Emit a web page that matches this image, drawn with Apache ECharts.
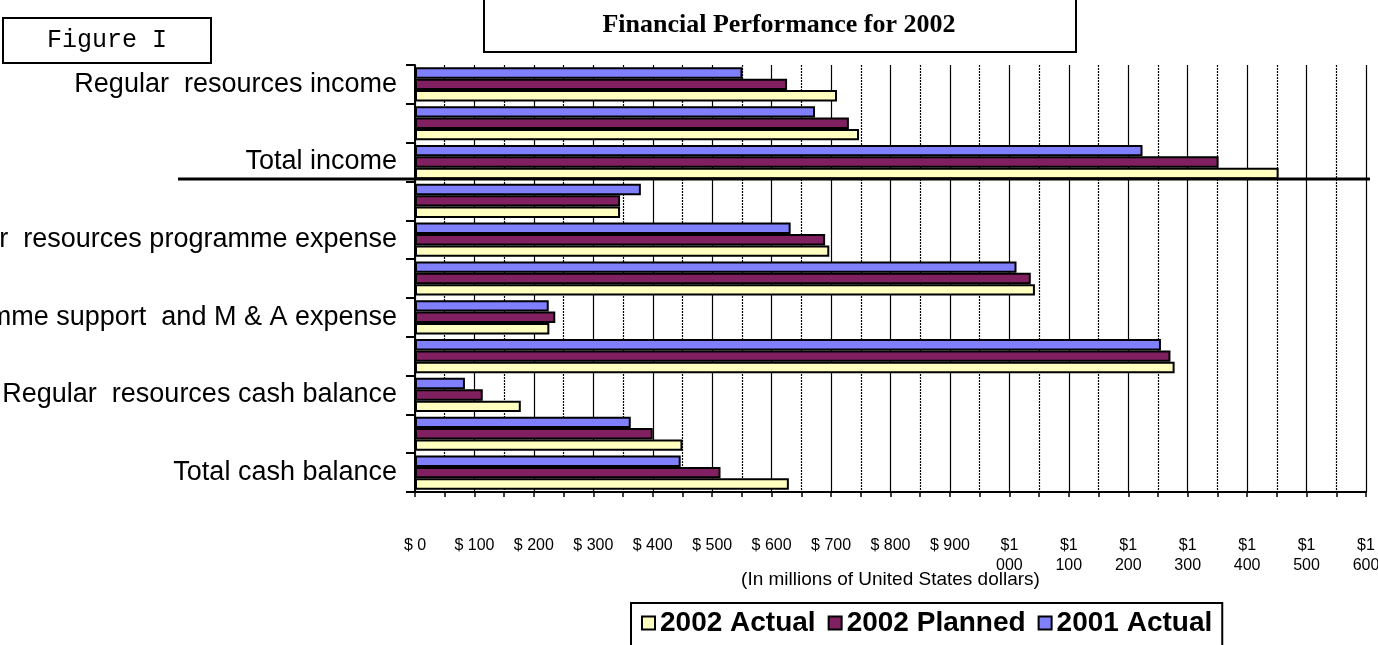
<!DOCTYPE html>
<html>
<head>
<meta charset="utf-8">
<script src="https://cdn.jsdelivr.net/npm/echarts@6/dist/echarts.min.js"></script>
<style>
html,body{margin:0;padding:0;background:#fff;}
#chart{width:1378px;height:645px;}
</style>
</head>
<body>
<div id="chart"></div>
<script>
var categories = [
  'Regular  resources income',
  'Other  resources income',
  'Total income',
  'Regular  resources programme expense',
  'Other  resources programme expense',
  'Total programme expense',
  'Programme support  and M & A expense',
  'Total expense',
  'Regular  resources cash balance',
  'Other  resources cash balance',
  'Total cash balance'
];
var actual2001  = [551, 673, 1224, 380, 632, 1012, 225, 1255, 84, 363, 447];
var planned2002 = [626, 730, 1352, 345, 690, 1036, 236, 1271, 114, 400, 514];
var actual2002  = [710, 747, 1453, 345, 697, 1043, 226, 1278, 178, 450, 629];
var xTickLabels = ['$ 0','$ 100','$ 200','$ 300','$ 400','$ 500','$ 600','$ 700','$ 800','$ 900',
  '$1\n000','$1\n100','$1\n200','$1\n300','$1\n400','$1\n500','$1\n600'];

var chart = echarts.init(document.getElementById('chart'));
var border = {borderColor:'#000', borderWidth:2};
chart.setOption({
  animation:false,
  backgroundColor:'#fff',
  grid:{left:415, right:12, top:65, bottom:153, containLabel:false, outerBoundsMode:'none'},
  legend:{
    data:['2002 Actual','2002 Planned','2001 Actual'],
    left:631, top:603,
    padding:[6,10,20,10],
    borderColor:'#000', borderWidth:2,
    itemWidth:13, itemHeight:13, itemGap:12,
    icon:'rect',
    textStyle:{fontFamily:'Liberation Sans', fontWeight:'bold', fontSize:28, color:'#000'}
  },
  xAxis:{
    type:'value', min:0, max:1600, interval:100,
    name:'(In millions of United States dollars)',
    nameLocation:'middle', nameGap:78, nameMoveOverlap:false,
    nameTextStyle:{fontFamily:'Liberation Sans', fontSize:19, color:'#000'},
    axisLine:{show:true, lineStyle:{color:'#000', width:2}},
    axisTick:{show:true, length:5, lineStyle:{color:'#000', width:1.5}},
    minorTick:{show:true, splitNumber:2, length:5, lineStyle:{color:'#000', width:1.5}},
    splitLine:{show:true, lineStyle:{color:'#000', width:1.2, type:'solid'}},
    minorSplitLine:{show:true, lineStyle:{color:'#000', width:1.2, type:[2,1]}},
    axisLabel:{
      margin:44, fontFamily:'Liberation Sans', fontSize:16, color:'#000', lineHeight:20,
      formatter:function(v){ return xTickLabels[Math.round(v/100)]; }
    }
  },
  yAxis:{
    type:'category', data:categories, inverse:true,
    axisLine:{show:true, lineStyle:{color:'#000', width:2}},
    axisTick:{show:true, interval:0, length:9, lineStyle:{color:'#000', width:2}},
    axisLabel:{interval:1, margin:18, fontFamily:'Liberation Sans', fontSize:27, color:'#000'},
    splitLine:{show:false}
  },
  graphic:[
    {type:'rect', shape:{x:3, y:18, width:208, height:45}, style:{fill:'#fff', stroke:'#000', lineWidth:2}, z:100},
    {type:'text', x:107, y:40, style:{text:'Figure I', fontFamily:'Liberation Mono', fontSize:25, fill:'#000', textAlign:'center', textVerticalAlign:'middle'}, z:101},
    {type:'rect', shape:{x:484, y:-2, width:592, height:54}, style:{fill:'#fff', stroke:'#000', lineWidth:2}, z:100},
    {type:'text', x:779, y:25, style:{text:'Financial Performance for 2002', fontFamily:'Liberation Serif', fontWeight:'bold', fontSize:26, fill:'#000', textAlign:'center', textVerticalAlign:'middle'}, z:101},
    {type:'line', shape:{x1:178, y1:179, x2:1370, y2:179}, style:{stroke:'#000', lineWidth:3}, z:100}
  ],
  series:[
    {name:'2001 Actual', type:'bar', data:actual2001, barGap:'0%', barCategoryGap:'12%',
     itemStyle:Object.assign({color:'#8080FF'}, border)},
    {name:'2002 Planned', type:'bar', data:planned2002, barGap:'0%', barCategoryGap:'12%',
     itemStyle:Object.assign({color:'#802060'}, border)},
    {name:'2002 Actual', type:'bar', data:actual2002, barGap:'0%', barCategoryGap:'12%',
     itemStyle:Object.assign({color:'#FFFFC0'}, border)}
  ]
});
</script>
</body>
</html>
